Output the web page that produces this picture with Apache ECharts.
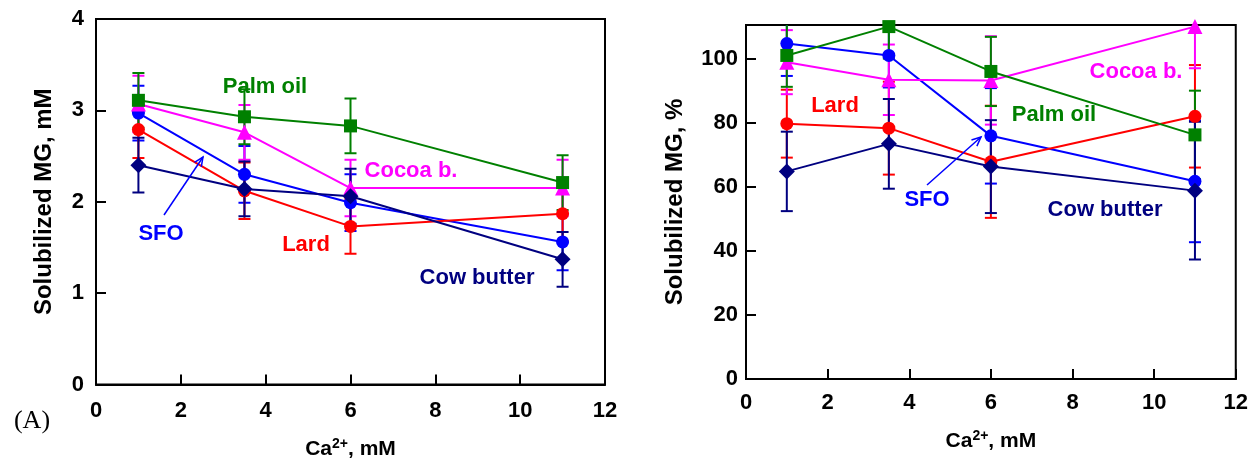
<!DOCTYPE html>
<html><head><meta charset="utf-8">
<script src="https://cdn.jsdelivr.net/npm/echarts@6/dist/echarts.min.js"></script>
<style>html,body{margin:0;padding:0;background:#fff}#c{width:1251px;height:465px}</style>
</head><body><div id="c"></div>
<script>
// ---- data ----
const caX = [1, 3.5, 6, 11];
const xTickLabels = [0, 2, 4, 6, 8, 10, 12];
const yTickLabelsA = [0, 1, 2, 3, 4];
const yTickLabelsB = [0, 20, 40, 60, 80, 100];

const palmA = [3.11, 2.93, 2.83, 2.21];
const palmAErr = [0.30, 0.30, 0.30, 0.30];
const cocoaA = [3.07, 2.76, 2.15, 2.15];
const cocoaAErr = [0.31, 0.30, 0.31, 0.31];
const sfoA = [2.97, 2.30, 1.99, 1.56];
const sfoAErr = [0.30, 0.31, 0.31, 0.31];
const lardA = [2.79, 2.12, 1.73, 1.87];
const lardAErr = [0.31, 0.31, 0.30, 0.30];
const cowA = [2.40, 2.14, 2.06, 1.37];
const cowAErr = [0.30, 0.30, 0.30, 0.30];

const palmB = [101.0, 110.0, 96.0, 76.2];
const palmBErr = [9.8, 10, 10.8, 13.8];
const cocoaB = [98.9, 93.4, 93.2, 110.0];
const cocoaBErr = [10, 11, 13.8, 13];
const sfoB = [104.7, 101.0, 75.9, 61.7];
const sfoBErr = [10.1, 10, 14.9, 19];
const lardB = [79.7, 78.3, 67.8, 82.0];
const lardBErr = [10.6, 14.5, 17.5, 16];
const cowB = [64.8, 73.4, 66.3, 58.8];
const cowBErr = [12.4, 14, 14.5, 21.5];

const C = {palm:'#008000', cocoa:'#ff00ff', sfo:'#0000ff', lard:'#ff0000', cow:'#000080'};
const FONT = '"Liberation Sans", Arial, sans-serif';

function errSeries(idx, vals, errs, color) {
  return {
    type: 'custom', xAxisIndex: idx, yAxisIndex: idx, clip: true, z: 2, silent: true,
    data: caX.map((x, i) => [x, vals[i] - errs[i], vals[i] + errs[i]]),
    encode: {x: 0, y: [1, 2]},
    renderItem: (params, api) => {
      const x = api.value(0);
      const lo = api.coord([x, api.value(1)]);
      const hi = api.coord([x, api.value(2)]);
      const w = 6;
      const st = {stroke: color, lineWidth: 2};
      return {type: 'group', children: [
        {type: 'line', shape: {x1: lo[0], y1: lo[1], x2: hi[0], y2: hi[1]}, style: st},
        {type: 'line', shape: {x1: lo[0] - w, y1: lo[1], x2: lo[0] + w, y2: lo[1]}, style: st},
        {type: 'line', shape: {x1: hi[0] - w, y1: hi[1], x2: hi[0] + w, y2: hi[1]}, style: st}
      ]};
    }
  };
}
function lineSeries(idx, vals, color, symbol, size) {
  return {
    type: 'line', xAxisIndex: idx, yAxisIndex: idx, z: 3, clip: false,
    data: caX.map((x, i) => [x, vals[i]]),
    symbol: symbol, symbolSize: size, showAllSymbol: true,
    lineStyle: {color: color, width: 2},
    itemStyle: {color: color, opacity: 1}
  };
}
function xAxis(idx, gap, margin) {
  return {
    type: 'value', gridIndex: idx, min: 0, max: 12, interval: 2,
    axisLine: {show: true, lineStyle: {color: '#000', width: 2}},
    axisTick: {show: true, inside: true, length: 10, lineStyle: {color: '#000', width: 2}},
    splitLine: {show: false},
    axisLabel: {color: '#000', fontSize: 22, fontWeight: 'bold', fontFamily: FONT, margin: margin,
      formatter: v => xTickLabels.indexOf(v) >= 0 ? String(v) : ''},
    name: 'Ca{sup|2+}, mM', nameLocation: 'middle', nameGap: gap,
    nameTextStyle: {color: '#000', fontSize: 21, fontWeight: 'bold', fontFamily: FONT,
      rich: {sup: {fontSize: 14, fontWeight: 'bold', fontFamily: FONT, color: '#000', padding: [0, 0, 10, 0]}}}
  };
}
function yAxis(idx, max, interval, labels, name, gap, margin) {
  return {
    type: 'value', gridIndex: idx, min: 0, max: max, interval: interval,
    axisLine: {show: true, lineStyle: {color: '#000', width: 2}},
    axisTick: {show: true, inside: true, length: 10, lineStyle: {color: '#000', width: 2}},
    splitLine: {show: false},
    axisLabel: {color: '#000', fontSize: 22, fontWeight: 'bold', fontFamily: FONT, margin: margin,
      formatter: v => labels.indexOf(v) >= 0 ? String(v) : ''},
    name: name, nameLocation: 'middle', nameGap: gap, nameRotate: 90,
    nameTextStyle: {color: '#000', fontSize: 24, fontWeight: 'bold', fontFamily: FONT}
  };
}
function txt(x, y, s, color) {
  return {type: 'text', x: x, y: y, z: 10, style: {text: s, fill: color, font: 'bold 22px ' + FONT, align: 'center', verticalAlign: 'middle'}};
}
function arrow(x1, y1, x2, y2, color) {
  const dx = x2 - x1, dy = y2 - y1, L = Math.hypot(dx, dy);
  const ux = dx / L, uy = dy / L, h = 10, a = 0.42;
  const p1 = [x2 - h * (ux * Math.cos(a) - uy * Math.sin(a)), y2 - h * (uy * Math.cos(a) + ux * Math.sin(a))];
  const p2 = [x2 - h * (ux * Math.cos(-a) - uy * Math.sin(-a)), y2 - h * (uy * Math.cos(-a) + ux * Math.sin(-a))];
  return [
    {type: 'line', z: 10, shape: {x1: x1, y1: y1, x2: x2, y2: y2}, style: {stroke: color, lineWidth: 1.5}},
    {type: 'polyline', z: 10, shape: {points: [p1, [x2, y2], p2]}, style: {stroke: color, lineWidth: 1.5, fill: null}}
  ];
}

const chart = echarts.init(document.getElementById('c'), null, {renderer: 'canvas'});
chart.setOption({
  animation: false,
  backgroundColor: '#fff',
  grid: [
    {left: 96, top: 19, width: 509, height: 366, show: true, borderColor: '#000', borderWidth: 2, backgroundColor: 'transparent'},
    {left: 746, top: 25, width: 490, height: 354, show: true, borderColor: '#000', borderWidth: 2, backgroundColor: 'transparent'}
  ],
  xAxis: [xAxis(0, 53, 15), xAxis(1, 50, 13)],
  yAxis: [
    yAxis(0, 4, 1, yTickLabelsA, 'Solubilized MG, mM', 40, 12),
    yAxis(1, 110.5, 20, yTickLabelsB, 'Solubilized MG, %', 59, 8)
  ],
  series: [
    errSeries(0, sfoA, sfoAErr, C.sfo),
    errSeries(0, lardA, lardAErr, C.lard),
    errSeries(0, cocoaA, cocoaAErr, C.cocoa),
    errSeries(0, palmA, palmAErr, C.palm),
    errSeries(0, cowA, cowAErr, C.cow),
    lineSeries(0, sfoA, C.sfo, 'circle', 13),
    lineSeries(0, lardA, C.lard, 'circle', 13),
    lineSeries(0, cocoaA, C.cocoa, 'triangle', 15),
    lineSeries(0, palmA, C.palm, 'rect', 13),
    lineSeries(0, cowA, C.cow, 'diamond', 16),
    errSeries(1, sfoB, sfoBErr, C.sfo),
    errSeries(1, lardB, lardBErr, C.lard),
    errSeries(1, cocoaB, cocoaBErr, C.cocoa),
    errSeries(1, palmB, palmBErr, C.palm),
    errSeries(1, cowB, cowBErr, C.cow),
    lineSeries(1, sfoB, C.sfo, 'circle', 13),
    lineSeries(1, lardB, C.lard, 'circle', 13),
    lineSeries(1, cocoaB, C.cocoa, 'triangle', 15),
    lineSeries(1, palmB, C.palm, 'rect', 13),
    lineSeries(1, cowB, C.cow, 'diamond', 16)
  ],
  graphic: [
    txt(265, 87, 'Palm oil', C.palm),
    txt(411, 171, 'Cocoa b.', C.cocoa),
    txt(161, 234, 'SFO', C.sfo),
    txt(306, 245, 'Lard', C.lard),
    txt(477, 278, 'Cow butter', C.cow),
    ...arrow(164, 215, 203, 157, C.sfo),
    txt(1136, 72, 'Cocoa b.', C.cocoa),
    txt(835, 106, 'Lard', C.lard),
    txt(1054, 115, 'Palm oil', C.palm),
    txt(927, 200, 'SFO', C.sfo),
    txt(1105, 210, 'Cow butter', C.cow),
    ...arrow(927, 185, 981, 137, C.sfo),
    {type: 'text', x: 32, y: 421, z: 10, style: {text: '(A)', fill: '#000', font: '26px "Liberation Serif", "Times New Roman", serif', align: 'center', verticalAlign: 'middle'}}
  ]
});
</script></body></html>
